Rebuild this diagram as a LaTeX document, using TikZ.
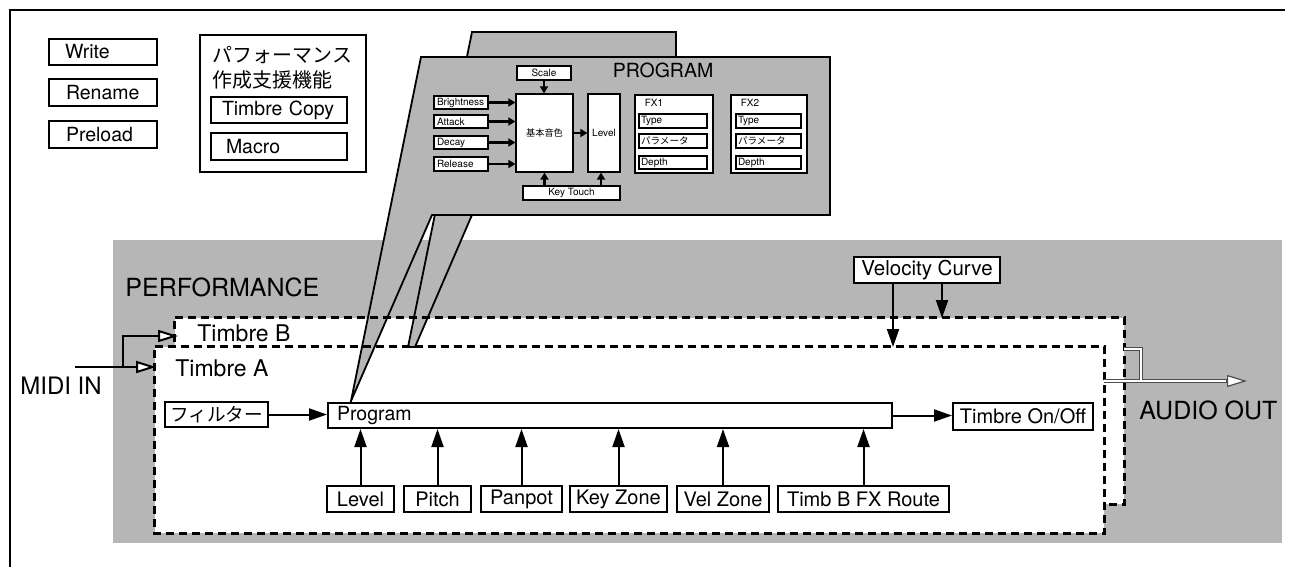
\documentclass[tikz,border=0pt]{standalone}
\usepackage{fontspec}
\setmainfont{TeX Gyre Heros}
\newfontfamily\jp{Noto Sans CJK JP}
\usetikzlibrary{arrows.meta}
\definecolor{halft}{RGB}{182,182,182}
\newcommand\fsz[1]{\fontsize{#1}{#1}\selectfont}
\begin{document}
\begin{tikzpicture}[x=0.5pt,y=-0.5pt,
  bx/.style={draw, line width=1pt, fill=white, inner sep=0pt, font=\fsz{10}},
  lbx/.style={bx, align=left},
  sbx/.style={draw, line width=0.6pt, fill=white, inner sep=0pt, font=\fsz{5}},
  lsbx/.style={sbx, align=left},
  lbl/.style={inner sep=0pt, anchor=west},
  arr/.style={line width=1pt, -{Triangle[length=9pt,width=6pt]}},
  sarr/.style={line width=1.2pt, -{Triangle[length=3.5pt,width=4pt]}},
  oarr/.style={line width=1pt, -{Triangle[open,fill=white,length=10pt,width=6pt]}},
  dsh/.style={line width=1.2pt, dash pattern=on 4pt off 2.5pt},
  callout/.style={fill=halft, draw, line width=0.9pt, line join=miter},
]
\useasboundingbox (0,0) rectangle (1293,567);
% outer frame
\draw[line width=1.2pt] (1285,10) -- (10,10) -- (10,567);

% top-left boxes
\node[lbx, font=\fsz{9.75}, text width=38pt, inner xsep=8pt, minimum height=13pt] (write) at (103,52) {Write};
\node[lbx, font=\fsz{9.75}, text width=37pt, inner xsep=8.5pt, minimum height=13.5pt] (rename) at (103,92.5) {Rename};
\node[lbx, font=\fsz{9.75}, text width=37pt, inner xsep=8.5pt, minimum height=13.5pt] (preload) at (103,134.5) {Preload};

\node[draw, line width=1pt, minimum width=83pt, minimum height=68.5pt, inner sep=0pt] (grp) at (283,103.5) {};
\node[lbl, font=\jp\fsz{10}] (jp1) at (212,55) {パフォーマンス};
\node[lbl, font=\jp\fsz{10}] (jp2) at (212,80) {作成支援機能};
\node[lbx, font=\fsz{9.75}, text width=57pt, inner xsep=5.5pt, minimum height=13pt] (tcopy) at (279,110) {Timbre Copy};
\node[lbx, font=\fsz{9.75}, text width=53pt, inner xsep=7.5pt, minimum height=13.5pt] (macro) at (279,146.5) {Macro};

% performance area
\fill[halft] (113,240) rectangle (1282,543);
\node[lbl, font=\fsz{12.5}] (perflbl) at (125,287) {PERFORMANCE};

% Timbre B and A
\node[fill=white, minimum width=474.5pt, minimum height=93pt, inner sep=0pt] (timbB) at (649.5,411) {};
\draw[dsh] (timbB.north west) -- (timbB.north east) -- (timbB.south east) -- (timbB.south west) -- cycle;
\node[fill=white, minimum width=474.5pt, minimum height=93pt, inner sep=0pt] (timbA) at (629.5,440) {};
\draw[dsh] (timbA.north west) -- (timbA.north east) -- (timbA.south east) -- (timbA.south west) -- cycle;

% callouts
\path[callout] (472,32) -- (676,32) -- (676,150) -- (500,150) -- (415,347) -- (408,347) -- cycle;
\path[callout] (421,57) -- (830,57) -- (830,215) -- (432,215) -- (351,401) -- cycle;
\draw[dsh] (timbB.north west) -- (timbB.north east);
\draw[dsh] (timbA.north west) -- (timbA.north east);

% PROGRAM contents
\node[inner sep=0pt, font=\fsz{9.75}] (progtitle) at (663,70) {PROGRAM};
\node[sbx, minimum width=27pt, minimum height=7pt] (scale) at (544,73) {Scale};
\node[sbx, minimum width=28.5pt, minimum height=39pt, font=\jp\fsz{4.6}] (kihon) at (544.5,133) {基本音色};
\node[sbx, minimum width=16pt, minimum height=39pt] (plevel) at (604,133) {Level};
\node[lsbx, text width=24pt, inner xsep=1.5pt, minimum height=6.5pt] (bright) at (461,102.5) {Brightness};
\node[lsbx, text width=24pt, inner xsep=1.5pt, minimum height=6.5pt] (attack) at (461,121.5) {Attack};
\node[lsbx, text width=24pt, inner xsep=1.5pt, minimum height=6.5pt] (decay) at (461,142.5) {Decay};
\node[lsbx, text width=24pt, inner xsep=1.5pt, minimum height=7pt] (release) at (461,164) {Release};
\node[sbx, minimum width=48.5pt, minimum height=7pt] (keytouch) at (571.5,193) {Key Touch};

\node[sbx, minimum width=39pt, minimum height=39pt] (fx1) at (674,134) {};
\node[inner sep=0pt, font=\fsz{5}] (fx1lbl) at (654,103) {FX1};
\node[lsbx, text width=32pt, inner xsep=1pt, minimum height=7pt] (fx1type) at (673,121) {Type};
\node[lsbx, text width=32pt, inner xsep=1pt, minimum height=7pt, font=\jp\fsz{4.8}] (fx1par) at (673,141) {パラメータ};
\node[lsbx, text width=32pt, inner xsep=1pt, minimum height=6.5pt] (fx1dep) at (673,162.5) {Depth};

\node[sbx, minimum width=38pt, minimum height=39pt] (fx2) at (769,134) {};
\node[inner sep=0pt, font=\fsz{5}] (fx2lbl) at (750,103) {FX2};
\node[lsbx, text width=30.5pt, inner xsep=1pt, minimum height=7pt] (fx2type) at (768.5,121) {Type};
\node[lsbx, text width=30.5pt, inner xsep=1pt, minimum height=7pt, font=\jp\fsz{4.8}] (fx2par) at (768.5,141) {パラメータ};
\node[lsbx, text width=30.5pt, inner xsep=1pt, minimum height=6.5pt] (fx2dep) at (768.5,162.5) {Depth};

\draw[sarr] (bright.east) -- (bright.east -| kihon.west);
\draw[sarr] (attack.east) -- (attack.east -| kihon.west);
\draw[sarr] (decay.east) -- (decay.east -| kihon.west);
\draw[sarr] (release.east) -- (release.east -| kihon.west);
\draw[sarr] (kihon.east) -- (plevel.west);
\draw[sarr] (scale.south) -- (scale.south |- kihon.north);
\draw[sarr] (kihon.south |- keytouch.north) -- (kihon.south);
\draw[sarr] ([xshift=-1.5pt]plevel.south |- keytouch.north) -- ([xshift=-1.5pt]plevel.south);

% labels in performance
\node[lbl, font=\fsz{11.5}] (lblB) at (197,333) {Timbre B};
\node[lbl, font=\fsz{11.5}] (lblA) at (175,368) {Timbre A};

% Velocity curve
\node[bx, font=\fsz{10.25}, minimum width=73pt, minimum height=13pt] (velo) at (927,270) {Velocity Curve};
\coordinate (vA) at (893,347);
\coordinate (vB) at (942,318);
\draw[arr] (vA |- velo.south) -- (vA);
\draw[arr] (vB |- velo.south) -- (vB);

% Timbre A contents
\node[bx, font=\jp\fsz{9.3}, minimum width=51.5pt, minimum height=12.5pt] (filter) at (216.5,414.5) {フィルター};
\node[lbx, font=\fsz{9.75}, text width=273pt, inner xsep=4.5pt, minimum height=12.5pt] (program) at (610,415.5) {Program};
\node[bx, minimum width=70pt, minimum height=13.5pt] (onoff) at (1023,416.5) {Timbre On/Off};
\draw[arr] (filter.east) -- (filter.east -| program.west);
\draw[arr] (program.east) -- (program.east -| onoff.west);

\node[bx, minimum width=33.5pt, minimum height=13pt] (level) at (360.5,499) {Level};
\node[bx, minimum width=33.5pt, minimum height=13pt] (pitch) at (437.5,499) {Pitch};
\node[bx, minimum width=40.5pt, minimum height=13pt] (panpot) at (521.5,499) {Panpot};
\node[bx, minimum width=48.5pt, minimum height=13pt] (keyzone) at (618.5,499) {Key Zone};
\node[bx, minimum width=46pt, minimum height=13pt] (velzone) at (723,499) {Vel Zone};
\node[bx, minimum width=85.5pt, minimum height=13pt] (timbfx) at (863.5,499) {Timb B FX Route};
\foreach \n in {level,pitch,panpot,keyzone,velzone,timbfx}
  \draw[arr] (\n.north) -- (\n.north |- program.south);

% MIDI IN
\node[lbl, font=\fsz{12}] (midi) at (20,386) {MIDI IN};
\coordinate (mstart) at (75,367);
\coordinate (mbr) at (123,367);
\coordinate (inA) at (156,367);
\coordinate (inB) at (178,336);
\draw[oarr] (mstart) -- (inA);
\draw[oarr] (mbr) |- (inB);

% AUDIO OUT
\node[lbl, font=\fsz{12.5}] (audio) at (1139,410) {AUDIO OUT};
\coordinate (aoA) at (1104,381);
\coordinate (aoB) at (1124,349);
\coordinate (aoJ) at (1141,381);
\coordinate (aoBase) at (1228,381);
\coordinate (aoEnd) at (1247,381);
\draw[line width=2.2pt, black!70] (aoA) -- (aoBase) (aoB) -| (aoJ);
\draw[line width=1pt, white] (aoA) -- (aoBase) (aoB) -| (aoJ);
\draw[line width=0.6pt, black!70, -{Triangle[open,fill=white,length=10pt,width=6pt]}] ([xshift=-1pt]aoBase) -- (aoEnd);
\end{tikzpicture}
\end{document}
